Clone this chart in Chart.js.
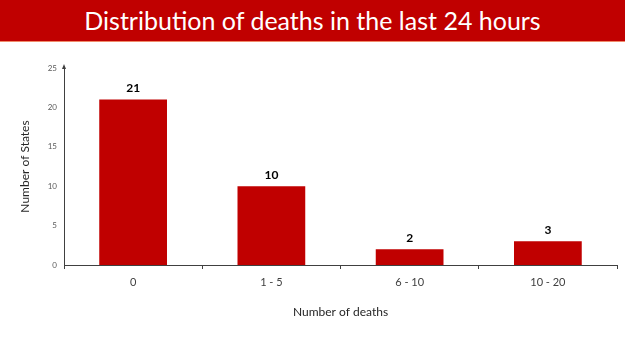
<!DOCTYPE html>
<html>
	<head>
		<meta charset="UTF-8">
		<title>Distribution of deaths</title>
		<script src="https://cdn.jsdelivr.net/npm/chart.js@4.4.1/dist/chart.umd.min.js"></script>
		<style type="text/css">
			*{
				margin: 0;
				padding: 0;
			}
			body{
				width: 625px;
				height: 351px;
				background: white;
				overflow: hidden;
			}
			#banner{
				height: 41px;
				background: #c00000;
				border-bottom: 1px solid #f08a6a;
				color: white;
				text-align: center;
				font-family: "Lato", sans-serif;
				font-size: 25px;
				line-height: 41px;
			}
			#wrap{
				position: relative;
				width: 625px;
				height: 309px;
			}
		</style>
	</head>
	<body>
		<div id="banner">Distribution of deaths in the last 24 hours</div>
		<div id="wrap"><canvas id="deaths"></canvas></div>
		<script type="text/javascript">
			var categories = ["0", "1 - 5", "6 - 10", "10 - 20"];
			var states = [21, 10, 2, 3];
			var yTicks = [0, 5, 10, 15, 20, 25];

			var axisColor = "#404040";

			// numbers above the bars
			var barLabels = {
				id: "barLabels",
				afterDatasetsDraw: function(chart){
					var ctx = chart.ctx;
					var meta = chart.getDatasetMeta(0);
					ctx.save();
					ctx.font = "bold 12px Lato";
					ctx.fillStyle = "#000";
					ctx.textAlign = "center";
					ctx.textBaseline = "middle";
					meta.data.forEach(function(bar, i){
						ctx.fillText(states[i], bar.x, bar.y - 11);
					});
					ctx.restore();
				}
			};

			// little arrow on top of the y axis
			var axisArrow = {
				id: "axisArrow",
				afterDraw: function(chart){
					var ctx = chart.ctx;
					var x = chart.scales.y.right;
					var y = chart.chartArea.top;
					ctx.save();
					ctx.fillStyle = axisColor;
					ctx.beginPath();
					ctx.moveTo(x, y - 4);
					ctx.lineTo(x - 2, y + 1);
					ctx.lineTo(x + 2, y + 1);
					ctx.closePath();
					ctx.fill();
					ctx.restore();
				}
			};

			new Chart(document.getElementById("deaths"), {
				type: "bar",
				data: {
					labels: categories,
					datasets: [{
						data: states,
						backgroundColor: "#c00000",
						categoryPercentage: 1,
						barPercentage: 0.49
					}]
				},
				options: {
					responsive: true,
					maintainAspectRatio: false,
					animation: false,
					layout: { padding: { top: 26, right: 8, left: 0, bottom: 0 } },
					plugins: {
						legend: { display: false },
						tooltip: { enabled: false }
					},
					scales: {
						x: {
							afterFit: function(s){ s.height = 86; },
							grid: {
								offset: true,
								drawOnChartArea: false,
								drawTicks: true,
								tickLength: 4,
								color: axisColor
							},
							border: { display: true, color: axisColor, width: 1 },
							ticks: {
								color: "#404040",
								padding: 7,
								font: { family: "Lato", size: 11 }
							},
							title: {
								display: true,
								text: "Number of deaths",
								color: "#262626",
								font: { family: "Lato", size: 12 },
								padding: { top: 0, bottom: 32 }
							}
						},
						y: {
							min: 0,
							max: 25,
							afterFit: function(s){ s.width = 64; },
							afterBuildTicks: function(s){
								s.ticks = yTicks.map(function(v){ return { value: v }; });
							},
							grid: { display: false, drawTicks: false },
							border: { display: true, color: axisColor, width: 1 },
							ticks: {
								color: "#595959",
								padding: 7,
								font: { family: "Lato", size: 8 }
							},
							title: {
								display: true,
								text: "Number of States",
								color: "#262626",
								font: { family: "Lato", size: 12 },
								padding: { top: 18, bottom: 0 }
							}
						}
					}
				},
				plugins: [barLabels, axisArrow]
			});
		</script>
	</body>
</html>
